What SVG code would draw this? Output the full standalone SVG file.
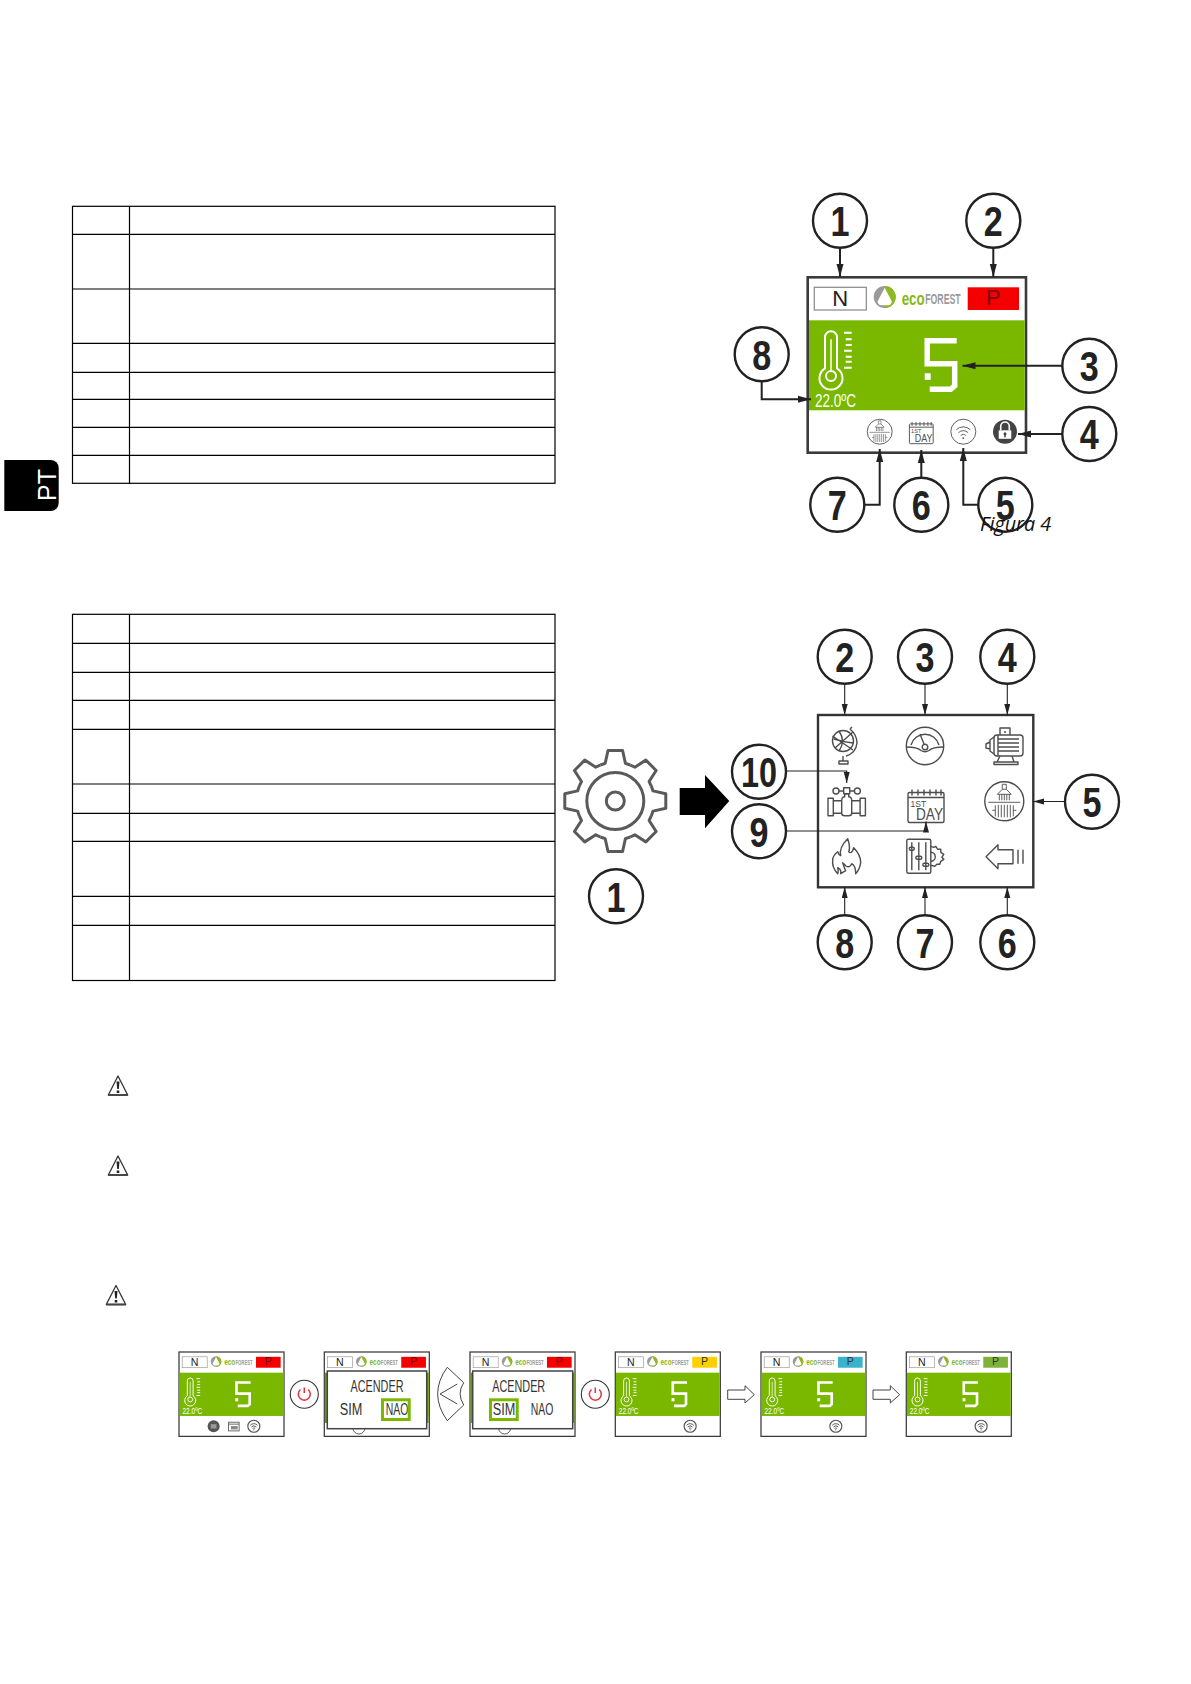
<svg xmlns="http://www.w3.org/2000/svg" xmlns:xlink="http://www.w3.org/1999/xlink" width="1191" height="1684" viewBox="0 0 1191 1684">
<style>
text{font-family:"Liberation Sans",Arial,sans-serif}
.bg{fill:#fff}
.tb{fill:none;stroke:#000;stroke-width:1.2}
.c{fill:#fff;stroke:#222;stroke-width:2.4}
.d{font-weight:700;font-size:43px;fill:#222;text-anchor:middle}
.l1{fill:none;stroke:#222;stroke-width:2}
.l2{fill:none;stroke:#222;stroke-width:1.1}
.ic{fill:none;stroke:#4d4d4d;stroke-width:1.4;stroke-linejoin:round}
.ict{fill:none;stroke:#4d4d4d;stroke-width:.9}
.frame{fill:#fff;stroke:#3a3a3a;stroke-width:2.6}
.dlg{fill:#fff;stroke:#444;stroke-width:1.5}
.lcd{font-size:16px;fill:#333;text-anchor:middle}
.hl{fill:none;stroke:#7ab800;stroke-width:3}
.pw{fill:#fff;stroke:#333;stroke-width:1.1}
.pws{fill:none;stroke:#e8303a;stroke-width:1.5}
.hollow{fill:#fff;stroke:#444;stroke-width:1}
.olive{fill:#6a9a10}
</style>
<defs>
<marker id="a1" markerUnits="userSpaceOnUse" markerWidth="14" markerHeight="8" refX="13" refY="4" orient="auto"><path d="M0 .5L13 4L0 7.500z" fill="#222"/></marker>
<marker id="a2" markerUnits="userSpaceOnUse" markerWidth="12" markerHeight="7" refX="11" refY="3" orient="auto"><path d="M0 0L11 3L0 6z" fill="#222"/></marker>
<g id="rad">
<circle class="ic" r="19.500"/>
<line class="ict" x1="-16" y1="1" x2="16" y2="1"/>
<path class="ict" d="M-2-12V-17H2V-12M-7-7L-2-12H2L7-7zM-5-7V-1M-2.500-7V-1M0-7V-1M2.500-7V-1M5-7V-1"/>
<path class="ict" d="M-9 4V15M-6 3.500V16M-3 3.500V16M0 3.500V16M3 3.500V16M6 3.500V16M9 4V15M-12 9H-9M9 9H12"/>
</g>
<g id="cal">
<rect class="ic" x="-18" y="-12" width="36" height="30" rx="1.500"/>
<line class="ic" x1="-18" y1="-7" x2="18" y2="-7"/>
<path class="ic" d="M-14-15V-9M-8-15V-9M-2-15V-9M4-15V-9M10-15V-9M15-15V-9"/>
<text x="-15.500" y="2" font-size="8.500" fill="#4d4d4d">1ST</text>
<text x="17" y="15" font-size="16" fill="#4d4d4d" text-anchor="end" textLength="27" lengthAdjust="spacingAndGlyphs">DAY</text>
</g>
<g id="wifi">
<circle class="ic" r="19.500"/>
<path class="ic" d="M-11-3A15.500 15.500 0 0 1 11-3M-7.500 1.500A10.500 10.500 0 0 1 7.500 1.500M-4 6A5.500 5.500 0 0 1 4 6"/>
<circle cy="10" r="1.500" fill="#4d4d4d"/>
</g>
<g id="wifi-s">
<circle r="12.500" fill="none" stroke="#555" stroke-width="2.400"/>
<path fill="none" stroke="#555" stroke-width="2" d="M-7.500-2A10 10 0 0 1 7.500-2M-5 1.500A7 7 0 0 1 5 1.500M-2.500 4.500A4 4 0 0 1 2.500 4.500"/>
<circle cy="7.500" r="1.300" fill="#555"/>
</g>
<g id="disp">
<rect class="frame" width="218.300" height="175.400"/>
<rect x="6.600" y="10" width="52" height="22.700" fill="#fff" stroke="#888" stroke-width="1.200"/>
<text x="32.500" y="29" font-size="22" fill="#222" text-anchor="middle">N</text>
<circle cx="77" cy="19.700" r="11" fill="#9a9a9a"/>
<path d="M77 8.700A11 11 0 0 1 77 30.700z" fill="#8cb821"/>
<path d="M77 10.500L84 24Q84 28 80 28H74Q70 28 70 24z" fill="#fff"/>
<text x="94" y="28" font-size="19" font-weight="700" fill="#86b817" textLength="23" lengthAdjust="spacingAndGlyphs">eco</text>
<text x="117.500" y="27" font-size="14" font-weight="700" fill="#9a9a9a" textLength="35.500" lengthAdjust="spacingAndGlyphs">FOREST</text>
<rect x="1.300" y="43" width="215.700" height="90" fill="#7ab800"/>
<path d="M17.300 91V60A6 6 0 0 1 29.300 60V91A11.500 11.500 0 1 1 17.300 91z" fill="none" stroke="#fff" stroke-width="2"/>
<circle cx="23.300" cy="98.700" r="5" fill="none" stroke="#fff" stroke-width="2"/>
<line x1="23.300" y1="62" x2="23.300" y2="93" stroke="#fff" stroke-width="1.500"/>
<path d="M36.300 55.400H44M38 62H44M38 67.700H44M36.300 73.400H44M38 79.400H44M38 84.400H44M36.300 90.400H44" stroke="#fff" stroke-width="2" fill="none"/>
<text x="7.300" y="129.400" font-size="19" fill="#fff" textLength="41" lengthAdjust="spacingAndGlyphs">22.0ºC</text>
<path d="M149 63.500H119.500V86.500H147V108.500L143 112H122" fill="none" stroke="#fff" stroke-width="5.500"/>
<rect x="117" y="96" width="6" height="6.500" fill="#fff"/>
</g>
<g id="dispw"><use xlink:href="#disp" href="#disp"/><use href="#wifi-s" xlink:href="#wifi-s" transform="translate(155.600,154.400)"/></g>
<polyline id="tooth" points="-14.900,-36 -10.100,-37.700 -7.300,-50.500 7.300,-50.500 10.100,-37.700 14.900,-36" fill="none" stroke="#5a5a5a" stroke-width="3" stroke-linejoin="round"/>
<g id="warn">
<path d="M0 1L-9.700 20H9.700z" fill="#fff" stroke="#333" stroke-width="1.300" stroke-linejoin="round"/>
<path d="M-1.500 6.500H1.500L.8 14H-.8zM-1.300 15.500H1.300V18H-1.300z" fill="#222"/>
<path d="M-9.700 20H9.700" stroke="#444" stroke-width="1.800"/>
</g>
</defs>
<rect class="bg" width="1191" height="1684"/>

<g id="tab-pt">
<path d="M4.300 460H50.700A8 8 0 0 1 58.700 468V503A8 8 0 0 1 50.700 511H4.300z" fill="#000"/>
<text transform="translate(56,501) rotate(-90)" font-size="25" fill="#fff">PT</text>
</g>

<g id="table-1">
<rect class="tb" x="72.500" y="206.300" width="482.500" height="277"/>
<path class="tb" d="M129.500 206.300V483.300M72.500 234.300H555M72.500 289H555M72.500 343.300H555M72.500 372.300H555M72.500 399.300H555M72.500 427.300H555M72.500 455.300H555"/>
</g>
<g id="table-2">
<rect class="tb" x="72.500" y="614.300" width="482.500" height="366.200"/>
<path class="tb" d="M129.500 614.300V980.500M72.500 643.300H555M72.500 672.300H555M72.500 700.300H555M72.500 729.300H555M72.500 784H555M72.500 813.300H555M72.500 841.300H555M72.500 896.300H555M72.500 925.300H555"/>
</g>

<g id="screen-1" transform="translate(807.700,277.300)">
<use href="#disp" xlink:href="#disp"/>
<rect x="160" y="10" width="51.300" height="22.700" fill="#f40000"/>
<text x="185.600" y="28" font-size="22" fill="#7a0000" text-anchor="middle">P</text>
<use href="#rad" xlink:href="#rad" transform="translate(72,154.400) scale(.64)"/>
<use href="#cal" xlink:href="#cal" transform="translate(113.600,154.500) scale(.66)"/>
<use href="#wifi" xlink:href="#wifi" transform="translate(155.600,154.400) scale(.64)"/>
<circle cx="197.300" cy="154.400" r="12" fill="#444"/>
<path d="M193 153V149A4.300 4.300 0 0 1 201.600 149V153" fill="none" stroke="#fff" stroke-width="1.600"/>
<rect x="191" y="153" width="12.600" height="8.500" fill="#fff"/>
<circle cx="197.300" cy="156.500" r="1.500" fill="#444"/>
<rect x="196.500" y="156.500" width="1.600" height="3.500" fill="#444"/>
</g>

<g id="connectors-fig4">
<path class="l1" marker-end="url(#a1)" d="M840 248V277"/>
<path class="l1" marker-end="url(#a1)" d="M993.300 248V277"/>
<path class="l1" marker-end="url(#a1)" d="M1062 365.700H962.500"/>
<path class="l1" marker-end="url(#a1)" d="M1062 434H1018"/>
<path class="l1" marker-end="url(#a1)" d="M978 504.700H963.300V448"/>
<path class="l1" marker-end="url(#a1)" d="M921.300 478V450"/>
<path class="l1" marker-end="url(#a1)" d="M810 504.700H879.700V449"/>
<path class="l1" marker-end="url(#a1)" d="M761.700 381V399.300H811"/>
</g>

<g id="fig4-1"><circle class="c" cx="840" cy="220.700" r="27"/><text class="d" x="840" y="236" textLength="19" lengthAdjust="spacingAndGlyphs">1</text></g>
<g id="fig4-2"><circle class="c" cx="993.300" cy="220.700" r="27"/><text class="d" x="993.300" y="236" textLength="19" lengthAdjust="spacingAndGlyphs">2</text></g>
<g id="fig4-3"><circle class="c" cx="1089.300" cy="365.700" r="27"/><text class="d" x="1089.300" y="381" textLength="19" lengthAdjust="spacingAndGlyphs">3</text></g>
<g id="fig4-4"><circle class="c" cx="1089.300" cy="434" r="27"/><text class="d" x="1089.300" y="449" textLength="19" lengthAdjust="spacingAndGlyphs">4</text></g>
<g id="fig4-5"><circle class="c" cx="1005.300" cy="504.700" r="27"/><text class="d" x="1005.300" y="520" textLength="19" lengthAdjust="spacingAndGlyphs">5</text></g>
<g id="fig4-6"><circle class="c" cx="921.300" cy="504.700" r="27"/><text class="d" x="921.300" y="520" textLength="19" lengthAdjust="spacingAndGlyphs">6</text></g>
<g id="fig4-7"><circle class="c" cx="837.300" cy="504.700" r="27"/><text class="d" x="837.300" y="520" textLength="19" lengthAdjust="spacingAndGlyphs">7</text></g>
<g id="fig4-8"><circle class="c" cx="761.700" cy="354.300" r="27"/><text class="d" x="761.700" y="369.500" textLength="19" lengthAdjust="spacingAndGlyphs">8</text></g>
<text id="caption" x="980" y="531" font-style="italic" font-size="19.800" fill="#111" style="font-family:'Open Sans',sans-serif">Figura 4</text>

<g id="gear" transform="translate(615.300,801)">
<use href="#tooth" xlink:href="#tooth"/>
<use href="#tooth" xlink:href="#tooth" transform="rotate(45)"/>
<use href="#tooth" xlink:href="#tooth" transform="rotate(90)"/>
<use href="#tooth" xlink:href="#tooth" transform="rotate(135)"/>
<use href="#tooth" xlink:href="#tooth" transform="rotate(180)"/>
<use href="#tooth" xlink:href="#tooth" transform="rotate(225)"/>
<use href="#tooth" xlink:href="#tooth" transform="rotate(270)"/>
<use href="#tooth" xlink:href="#tooth" transform="rotate(315)"/>
<circle r="28.500" fill="none" stroke="#5a5a5a" stroke-width="3"/>
<circle r="9" fill="none" stroke="#5a5a5a" stroke-width="3"/>
</g>
<path id="big-arrow" d="M679.700 788H705V775L729.300 801L705 828.300V815H679.700z" fill="#000"/>

<g id="menu">
<rect x="818" y="715" width="215.300" height="172.300" fill="#fff" stroke="#333" stroke-width="2.400"/>
<g id="icon-globe" transform="translate(847,743)">
<circle class="ic" cx="-4" cy="-2" r="10.500"/>
<path class="ic" d="M-14.500-7L6 7M-12 5L6-11M-8-12Q-1-2-8 8M-13-4Q-4-1 6 0M3-14Q10-8 10 0Q9 10-1 13M5-16L3-14M-4 13V18M-8 18H1V21H-8z"/>
</g>
<g id="icon-gauge" transform="translate(925,746)">
<circle class="ic" r="18.700"/>
<path class="ic" d="M-18.500 1Q-8 1-4 4.500Q0 7 4 4.500Q8 1 18.500 1M-14-1A14.500 14.500 0 0 1 14-1M-5-12L-1-2"/>
<circle class="ic" cy="1" r="2.800"/>
</g>
<g id="icon-motor" transform="translate(1005,745)">
<rect class="ic" x="-11" y="-10" width="29" height="21" rx="3"/>
<path class="ic" d="M-7-10V11M-7-6H14M-7-2H14M-7 2H14M-7 6H14M-11-8L-15-5V6L-11 9M-15-3L-19-1V3L-15 4M-5-10V-17H5V-10M-5 11L-8 17H9L7 11M-11 17H13V19.500H-11z"/>
<circle cx="0" cy="-13" r="1" fill="#4d4d4d"/>
</g>
<g id="icon-valve" transform="translate(846.700,801.700)">
<rect class="ic" x="-18.700" y="-3.400" width="5.300" height="17.400"/>
<rect class="ic" x="13.400" y="-3.400" width="5.300" height="17.400"/>
<path class="ic" d="M-13.400-1H-5M-13.400 11.500H-5M13.400-1H5M13.400 11.500H5"/>
<path class="ic" d="M-5-1Q-5-5-2-5V-8H2V-5Q5-5 5-1V11.500Q5 14 2 14H-2Q-5 14-5 11.500z"/>
<circle class="ic" cx="-10.700" cy="-10.700" r="3"/>
<circle class="ic" cx="10.700" cy="-10.700" r="3"/>
<rect class="ic" x="-3" y="-14" width="6" height="6"/>
<path class="ic" d="M-7.700-10.700H-3M3-10.700H7.700"/>
</g>
<g id="icon-cal" transform="translate(926,804.500)"><use href="#cal" xlink:href="#cal"/></g>
<g id="icon-rad" transform="translate(1004.300,801.300)"><use href="#rad" xlink:href="#rad"/></g>
<g id="icon-flame" transform="translate(846.700,856.700)">
<path class="ic" d="M1-18Q4-9 2-5Q5-2 7-9Q14-2 14 6Q13 13 9 17Q9 9 5 7Q3 12-1 9L-4 6Q-2 12-1 14L-6 17Q-5 13-9 11Q-8 14-9 17Q-15 11-14 3Q-14-1-9-5Q-8-2-6-1Q-8-9 1-18z"/>
</g>
<g id="icon-sliders" transform="translate(918.800,856.300)">
<rect class="ic" x="-12" y="-17" width="24" height="34" rx="1.500"/>
<path class="ic" d="M-7-14V14M0-14V14M7-14V14"/>
<rect class="ic" x="-9.500" y="-9" width="5" height="3" rx="1.500" fill="#fff"/>
<rect class="ic" x="-3" y="0" width="6" height="3" rx="1.500"/>
<rect class="ic" x="4" y="7" width="6" height="3" rx="1.500"/>
<path class="ic" d="M12-10L15-9L17-10L19-7L22-7L22-4L25-2L23 1L25 3L22 5L21 8L18 8L16 10L12 9"/>
<path class="ic" d="M12-4A4.500 4.500 0 0 1 12 5"/>
</g>
<g id="icon-back" transform="translate(1005,856.700)">
<path class="ic" d="M-19 0L-7-12V-7H8V7H-7V12z"/>
<path class="ic" d="M13-7V7M18-7V7"/>
</g>
</g>

<g id="connectors-fig5">
<path class="l2" marker-end="url(#a2)" d="M844.700 684V715"/>
<path class="l2" marker-end="url(#a2)" d="M925 684V715"/>
<path class="l2" marker-end="url(#a2)" d="M1007.300 684V715"/>
<path class="l2" marker-end="url(#a2)" d="M1067 801.500H1033"/>
<path class="l2" marker-end="url(#a2)" d="M844.700 915V887"/>
<path class="l2" marker-end="url(#a2)" d="M925 915V887"/>
<path class="l2" marker-end="url(#a2)" d="M1007.300 915V887"/>
<path class="l2" marker-end="url(#a2)" d="M786 771H846.700V783"/>
<path class="l2" marker-end="url(#a2)" d="M786 831H926V821.500"/>
</g>

<g id="fig5-1"><circle class="c" cx="616" cy="896.300" r="27"/><text class="d" x="616" y="911.500" textLength="19" lengthAdjust="spacingAndGlyphs">1</text></g>
<g id="fig5-2"><circle class="c" cx="844.700" cy="656.700" r="27"/><text class="d" x="844.700" y="672" textLength="19" lengthAdjust="spacingAndGlyphs">2</text></g>
<g id="fig5-3"><circle class="c" cx="925" cy="656.700" r="27"/><text class="d" x="925" y="672" textLength="19" lengthAdjust="spacingAndGlyphs">3</text></g>
<g id="fig5-4"><circle class="c" cx="1007.300" cy="656.700" r="27"/><text class="d" x="1007.300" y="672" textLength="19" lengthAdjust="spacingAndGlyphs">4</text></g>
<g id="fig5-5"><circle class="c" cx="1092" cy="801.700" r="27"/><text class="d" x="1092" y="817" textLength="19" lengthAdjust="spacingAndGlyphs">5</text></g>
<g id="fig5-6"><circle class="c" cx="1007.300" cy="942.300" r="27"/><text class="d" x="1007.300" y="957.500" textLength="19" lengthAdjust="spacingAndGlyphs">6</text></g>
<g id="fig5-7"><circle class="c" cx="925" cy="942.300" r="27"/><text class="d" x="925" y="957.500" textLength="19" lengthAdjust="spacingAndGlyphs">7</text></g>
<g id="fig5-8"><circle class="c" cx="844.700" cy="942.300" r="27"/><text class="d" x="844.700" y="957.500" textLength="19" lengthAdjust="spacingAndGlyphs">8</text></g>
<g id="fig5-9"><circle class="c" cx="759" cy="831.300" r="27"/><text class="d" x="759" y="846.500" textLength="19" lengthAdjust="spacingAndGlyphs">9</text></g>
<g id="fig5-10"><circle class="c" cx="759" cy="771.700" r="27"/><text class="d" x="759" y="787" textLength="36" lengthAdjust="spacingAndGlyphs">10</text></g>

<g id="warnings">
<use id="warn-1" href="#warn" xlink:href="#warn" transform="translate(118,1075)"/>
<use id="warn-2" href="#warn" xlink:href="#warn" transform="translate(118,1155)"/>
<use id="warn-3" href="#warn" xlink:href="#warn" transform="translate(116,1284.500)"/>
</g>

<g id="step-1" transform="translate(179,1352) scale(.481)">
<use href="#disp" xlink:href="#disp"/>
<rect x="160" y="10" width="51.300" height="22.700" fill="#f40000"/>
<text x="185.600" y="28" font-size="22" fill="#7a0000" text-anchor="middle">P</text>
<circle cx="72" cy="154.400" r="12.500" fill="#555"/>
<rect x="66" y="150" width="12" height="9" fill="#999"/>
<rect x="103" y="146" width="22" height="18" fill="#fff" stroke="#666" stroke-width="2"/>
<path d="M103 150H125" stroke="#666" stroke-width="2"/>
<rect x="108" y="154" width="14" height="7" fill="#888"/>
<use href="#wifi-s" xlink:href="#wifi-s" transform="translate(155.600,154.400)"/>
</g>
<g id="power-1"><circle class="pw" cx="304.300" cy="1394.300" r="14"/><path class="pws" d="M304.300 1387.500V1393M300.500 1389.500A6 6 0 1 0 308.100 1389.500"/></g>

<g id="step-2">
<g transform="translate(324.300,1352) scale(.481)">
<use href="#disp" xlink:href="#disp"/>
<rect x="160" y="10" width="51.300" height="22.700" fill="#f40000"/>
<text x="185.600" y="28" font-size="22" fill="#7a0000" text-anchor="middle">P</text>
<circle cx="72" cy="158" r="12.500" fill="none" stroke="#555" stroke-width="2"/>
</g>
<rect class="olive" x="325" y="1373" width="4" height="50"/>
<rect class="olive" x="425" y="1373" width="3.500" height="50"/>
<rect class="dlg" x="327.300" y="1371" width="99.400" height="57.700"/>
<text class="lcd" x="377" y="1391.700" textLength="53" lengthAdjust="spacingAndGlyphs">ACENDER</text>
<text class="lcd" x="351" y="1415" textLength="22.600" lengthAdjust="spacingAndGlyphs">SIM</text>
<text class="lcd" x="397" y="1415" textLength="22.600" lengthAdjust="spacingAndGlyphs">NAO</text>
<rect class="hl" x="382.500" y="1399.800" width="26.700" height="19.700"/>
</g>
<g id="chevron">
<path d="M447.300 1367.300L463.700 1382.700Q456.500 1393.500 463.700 1405L447.300 1420.700Q428 1393.500 447.300 1367.300z" fill="#fff" stroke="#444" stroke-width="1"/>
<path d="M457.300 1384L440 1394L457.300 1404" fill="none" stroke="#444" stroke-width="1"/>
</g>
<g id="step-3">
<g transform="translate(470,1352) scale(.481)">
<use href="#disp" xlink:href="#disp"/>
<rect x="160" y="10" width="51.300" height="22.700" fill="#f40000"/>
<text x="185.600" y="28" font-size="22" fill="#7a0000" text-anchor="middle">P</text>
<circle cx="72" cy="158" r="12.500" fill="none" stroke="#555" stroke-width="2"/>
</g>
<rect class="olive" x="470.700" y="1373" width="3" height="50"/>
<rect class="olive" x="571" y="1373" width="3.500" height="50"/>
<rect class="dlg" x="472.700" y="1371" width="100" height="57.700"/>
<text class="lcd" x="518.700" y="1391.700" textLength="53" lengthAdjust="spacingAndGlyphs">ACENDER</text>
<text class="lcd" x="504" y="1415" textLength="22.600" lengthAdjust="spacingAndGlyphs">SIM</text>
<text class="lcd" x="542" y="1415" textLength="22.600" lengthAdjust="spacingAndGlyphs">NAO</text>
<rect class="hl" x="490.500" y="1399.800" width="26.700" height="19.700"/>
</g>
<g id="power-2"><circle class="pw" cx="595.300" cy="1394.300" r="14"/><path class="pws" d="M595.300 1387.500V1393M591.500 1389.500A6 6 0 1 0 599.100 1389.500"/></g>

<g id="step-4" transform="translate(615.300,1352) scale(.481)">
<use href="#dispw" xlink:href="#dispw"/>
<rect x="160" y="10" width="51.300" height="22.700" fill="#fed000"/>
<text x="185.600" y="28" font-size="22" fill="#333" text-anchor="middle">P</text>
</g>
<path id="hollow-1" class="hollow" d="M727.700 1390H745V1385.700L754.300 1394.700L745 1403V1399.300H727.700z"/>
<g id="step-5" transform="translate(761,1352) scale(.481)">
<use href="#dispw" xlink:href="#dispw"/>
<rect x="160" y="10" width="51.300" height="22.700" fill="#3ab2cc"/>
<text x="185.600" y="28" font-size="22" fill="#333" text-anchor="middle">P</text>
</g>
<path id="hollow-2" class="hollow" d="M873 1390H890.300V1385.700L899.600 1394.700L890.300 1403V1399.300H873z"/>
<g id="step-6" transform="translate(906.300,1352) scale(.481)">
<use href="#dispw" xlink:href="#dispw"/>
<rect x="160" y="10" width="51.300" height="22.700" fill="#7fb239"/>
<text x="185.600" y="28" font-size="22" fill="#333" text-anchor="middle">P</text>
</g>
</svg>
